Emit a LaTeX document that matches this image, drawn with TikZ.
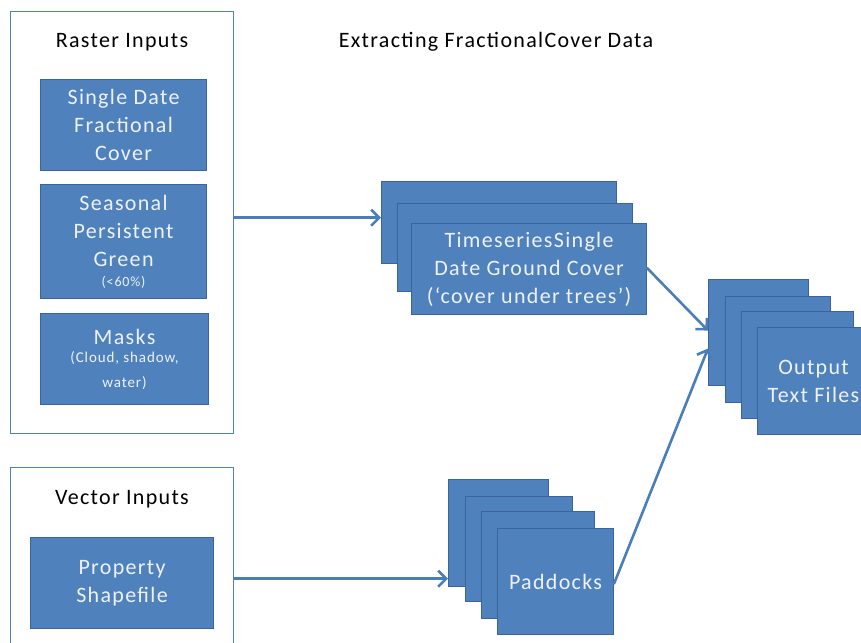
\documentclass[tikz,border=0pt]{standalone}
\usepackage{fontspec}
\setmainfont{Carlito}[LetterSpace=6]
\usetikzlibrary{arrows.meta}
\definecolor{fillblue}{HTML}{4F81BD}
\definecolor{edgeblue}{HTML}{3A64A0}
\definecolor{arrowblue}{HTML}{4A7EBB}
\definecolor{paneledge}{HTML}{4F81BD}
\definecolor{txtlight}{HTML}{EEF2F8}
\begin{document}
\begin{tikzpicture}[x=1pt,y=-1pt,
  bluebox/.style={draw=edgeblue, fill=fillblue, line width=1.1pt, text=txtlight,
    align=center, inner sep=0pt, anchor=north west, font=\fontsize{22}{28}\selectfont},
  panel/.style={draw=paneledge, line width=1.4pt, inner sep=0pt, anchor=north west},
  label/.style={font=\fontsize{22}{28}\selectfont, text=black, inner sep=0pt},
  conn/.style={draw=arrowblue, line width=2.6pt, line cap=round,
    -{Straight Barb[length=8pt,width=16pt,line width=2.6pt]}}
]
\useasboundingbox (0,0) rectangle (861,642);

% Raster inputs panel
\node[panel, minimum width=223pt, minimum height=422pt] (raster) at (10,11) {};
\node[label] (rastertitle) at (122,42) {Raster Inputs};
\node[bluebox, minimum width=166pt, minimum height=91pt] (sdfc) at (40,79)
  {Single Date\\Fractional\\Cover};
\node[bluebox, minimum width=166pt, minimum height=114pt] (spg) at (40,184)
  {Seasonal\\Persistent\\Green\\[-8pt]\fontsize{14}{18}\selectfont(<60\%)};
\node[bluebox, minimum width=168pt, minimum height=91pt] (masks) at (40,313)
  {Masks\\[-10pt]\fontsize{15}{18}\selectfont(Cloud, shadow,\\[-3pt]\fontsize{15}{18}\selectfont water)};

% Vector inputs panel
\node[panel, minimum width=223pt, minimum height=222pt] (vector) at (10,467) {};
\node[label] (vectortitle) at (122,499) {Vector Inputs};
\node[bluebox, minimum width=183pt, minimum height=91pt] (prop) at (30,537)
  {Property\\Shapefile};

% Title
\node[label] (title) at (496,42) {Extracting FractionalCover Data};

% Timeseries stack
\node[bluebox, minimum width=235pt, minimum height=82pt] (ts1) at (381,181) {};
\node[bluebox, minimum width=235pt, minimum height=88pt] (ts2) at (397,203) {};
\node[bluebox, minimum width=235pt, minimum height=91pt] (ts3) at (411,223)
  {TimeseriesSingle\\Date Ground Cover\\(‘cover under trees’)};

% Paddocks stack
\node[bluebox, minimum width=100pt, minimum height=107pt] (pad1) at (448,479) {};
\node[bluebox, minimum width=107pt, minimum height=105pt] (pad2) at (465,496) {};
\node[bluebox, minimum width=113pt, minimum height=107pt] (pad3) at (481,511) {};
\node[bluebox, minimum width=116pt, minimum height=106pt] (pad4) at (497,528) {Paddocks};

% Output stack
\node[bluebox, minimum width=100pt, minimum height=106pt] (out1) at (708,279) {};
\node[bluebox, minimum width=105pt, minimum height=106pt] (out2) at (725,296) {};
\node[bluebox, minimum width=112pt, minimum height=107pt] (out3) at (741,311) {};
\node[bluebox, minimum width=112pt, minimum height=107pt] (out4) at (757,327) {Output\\Text Files};

% Connectors
\coordinate (a1s) at ([yshift=5pt]raster.east);
\draw[conn] (a1s) -- (a1s -| ts1.west);
\draw[conn] (vector.east) -- (vector.east -| pad1.west);
\draw[conn] ([yshift=1pt]ts3.east) -- ([yshift=2pt]out1.west);
\draw[conn] ([yshift=-2pt]pad4.east) -- ([yshift=-16pt]out1.west);
\end{tikzpicture}
\end{document}
